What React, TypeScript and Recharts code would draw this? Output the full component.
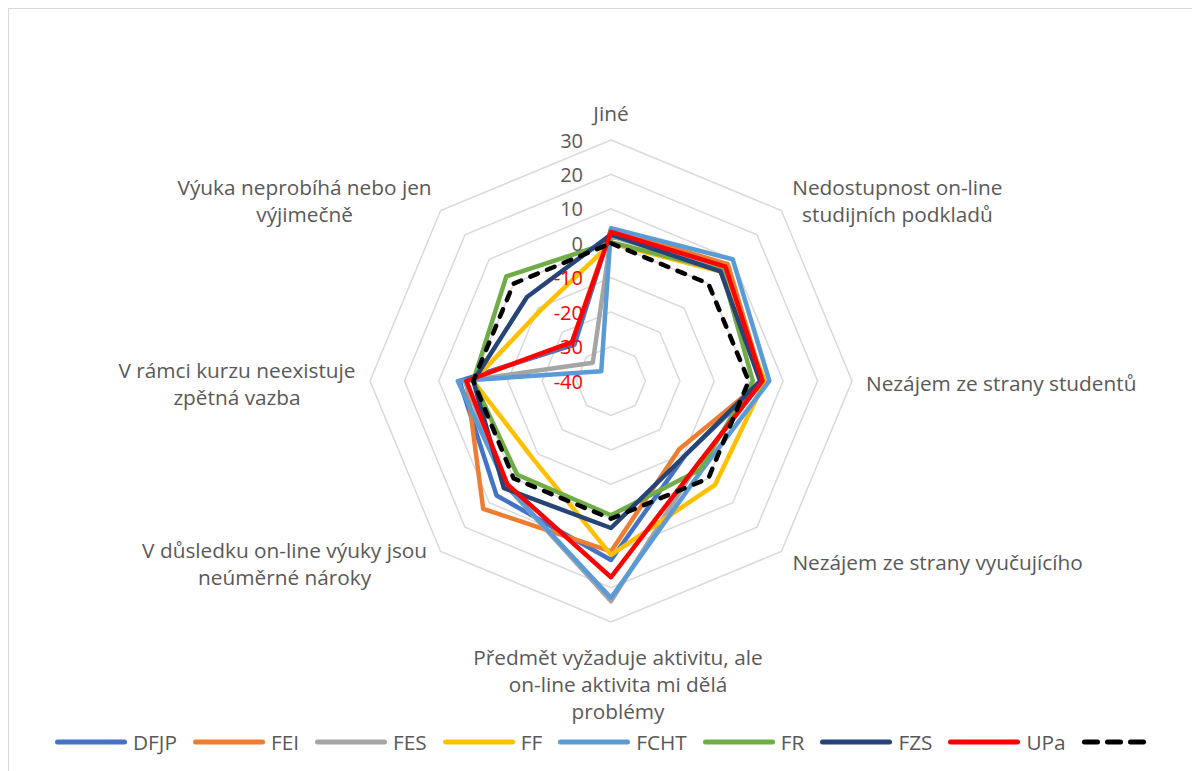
import { RadarChart, Radar, PolarGrid, PolarAngleAxis, PolarRadiusAxis } from 'recharts';

const categories = [
  'Jiné',
  'Nedostupnost on-line studijních podkladů',
  'Nezájem ze strany studentů',
  'Nezájem ze strany vyučujícího',
  'Předmět vyžaduje aktivitu, ale on-line aktivita mi dělá problémy',
  'V důsledku on-line výuky jsou neúměrné nároky',
  'V rámci kurzu neexistuje zpětná vazba',
  'Výuka neprobíhá nebo jen výjimečně',
];

const categoryLines = [
  ['Jiné'],
  ['Nedostupnost on-line', 'studijních podkladů'],
  ['Nezájem ze strany studentů'],
  ['Nezájem ze strany vyučujícího'],
  ['Předmět vyžaduje aktivitu, ale', 'on-line aktivita mi dělá', 'problémy'],
  ['V důsledku on-line výuky jsou', 'neúměrné nároky'],
  ['V rámci kurzu neexistuje', 'zpětná vazba'],
  ['Výuka neprobíhá nebo jen', 'výjimečně'],
];

const radiusTicks = [-40, -30, -20, -10, 0, 10, 20, 30];

const dfjp = [4, 7, 4, -9.5, 12, 7, 4, -25];
const fei = [4, 8, 4, -12, 9.5, 12.5, 2, -24];
const fes = [2, 6, 4, -5, 24, 3, 2.5, -32.5];
const ff = [0, 5, 4.7, 2.7, 10.5, -8, 0, -11];
const fcht = [4.4, 10, 6, -3, 23, 3, 4.5, -36];
const fr = [0.3, 5.5, 1.2, -3.5, -1, -1.5, 0, 3];
const fzs = [2.5, 5, 3.3, -9.5, 2.7, 4, 0, -5.5];
const upa = [3.3, 7, 4, -5, 17, 2.5, 2, -24];
const zero = [0, 0, 0, 0, 0, 0, 0, 0];

const series = [
  { key: 'DFJP', name: 'DFJP', values: dfjp, color: '#4472C4' },
  { key: 'FEI', name: 'FEI', values: fei, color: '#ED7D31' },
  { key: 'FES', name: 'FES', values: fes, color: '#A5A5A5' },
  { key: 'FF', name: 'FF', values: ff, color: '#FFC000' },
  { key: 'FCHT', name: 'FCHT', values: fcht, color: '#5B9BD5' },
  { key: 'FR', name: 'FR', values: fr, color: '#70AD47' },
  { key: 'FZS', name: 'FZS', values: fzs, color: '#264478' },
  { key: 'UPa', name: 'UPa', values: upa, color: '#FF0000' },
  { key: 'zero', name: '', values: zero, color: '#000000', dash: '8 10' },
];

const data = categories.map((category, i) => {
  const row: Record<string, string | number> = { category };
  series.forEach((s) => {
    row[s.key] = s.values[i];
  });
  return row;
});

const FONT = '"Open Sans", "Noto Sans", sans-serif';
const W = 1184;
const H = 763;
const CX = 602;
const CY = 372;
const R = 241;

// label block placement relative to each outer vertex
const labelPlace = [
  { dx: 0, dy: -27, anchor: 'middle' },
  { dx: 116, dy: -10, anchor: 'middle' },
  { dx: 14, dy: 2, anchor: 'start' },
  { dx: 11, dy: 11, anchor: 'start' },
  { dx: 7, dy: 62, anchor: 'middle' },
  { dx: -156, dy: 12, anchor: 'middle' },
  { dx: -133, dy: 2, anchor: 'middle' },
  { dx: -136, dy: -10, anchor: 'middle' },
];

const AngleTick = (props: any) => {
  const i = props.payload.index;
  const a = (props.payload.coordinate * Math.PI) / 180;
  const vx = CX + R * Math.cos(a);
  const vy = CY - R * Math.sin(a);
  const p = labelPlace[i];
  const lines = categoryLines[i];
  const lh = 27;
  const top = vy + p.dy - ((lines.length - 1) * lh) / 2;
  return (
    <text textAnchor={p.anchor} fontFamily={FONT} fontSize={20.8} fill="#595959">
      {lines.map((l, k) => (
        <tspan key={k} x={vx + p.dx} y={top + k * lh} dominantBaseline="central">
          {l}
        </tspan>
      ))}
    </text>
  );
};

const RadiusTick = (props: any) => {
  const v = props.payload.value;
  return (
    <text
      x={CX - 28}
      y={props.y}
      textAnchor="end"
      dominantBaseline="central"
      fontFamily={FONT}
      fontSize={20}
      fill={v < 0 ? '#FF0000' : '#595959'}
    >
      {v}
    </text>
  );
};

function LegendRow() {
  return (
    <div
      style={{
        position: 'absolute',
        top: 719,
        left: 46,
        display: 'flex',
        alignItems: 'center',
        gap: 16,
        fontFamily: FONT,
        fontSize: 20.8,
        color: '#595959',
        whiteSpace: 'nowrap',
      }}
    >
      {series.map((s) => (
        <div key={s.key} style={{ display: 'flex', alignItems: 'center', gap: 6 }}>
          {s.dash ? (
            <svg width={66} height={10}>
              <line x1={2.5} y1={5} x2={63.5} y2={5} stroke={s.color} strokeWidth={5} strokeLinecap="round" strokeDasharray="13 10" />
            </svg>
          ) : (
            <svg width={72} height={10}>
              <line x1={2.5} y1={5} x2={69.5} y2={5} stroke={s.color} strokeWidth={5} strokeLinecap="round" />
            </svg>
          )}
          {s.name ? <span>{s.name}</span> : null}
        </div>
      ))}
    </div>
  );
}

export default function App() {
  return (
    <div
      style={{
        position: 'relative',
        width: W,
        height: H,
        border: '1px solid #d9d9d9',
        background: '#fff',
      }}
    >
      <RadarChart width={W} height={H} data={data} cx={CX} cy={CY} outerRadius={R} margin={{ top: 0, right: 0, bottom: 0, left: 0 }}>
        <PolarGrid gridType="polygon" radialLines={false} stroke="#d9d9d9" strokeWidth={1.5} />
        <PolarAngleAxis dataKey="category" tick={AngleTick} axisLine={false} tickLine={false} />
        <PolarRadiusAxis
          angle={90}
          domain={[-40, 30]}
          ticks={radiusTicks as any}
          tickCount={8}
          axisLine={false}
          tickLine={false}
          tick={RadiusTick}
        />
        {series.map((s) => (
          <Radar
            key={s.key}
            dataKey={s.key}
            name={s.name}
            stroke={s.color}
            strokeWidth={4.5}
            strokeDasharray={s.dash}
            strokeLinejoin="round"
            strokeLinecap="round"
            fill="none"
            fillOpacity={0}
            dot={false}
            isAnimationActive={false}
          />
        ))}
      </RadarChart>
      <LegendRow />
    </div>
  );
}
